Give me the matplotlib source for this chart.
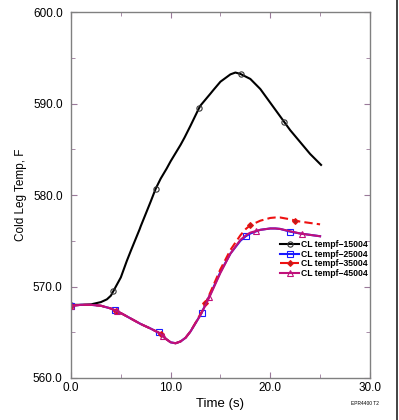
import matplotlib
matplotlib.use("Agg")
import matplotlib.pyplot as plt
from matplotlib.legend_handler import HandlerLine2D
from matplotlib.lines import Line2D
from matplotlib.ticker import MultipleLocator, FormatStrFormatter

plt.rcParams['font.family'] = ['Liberation Sans', 'DejaVu Sans']

# ---- data ----
t_black = [0, 1, 2, 3, 3.6, 4, 4.25, 5, 5.6, 6, 6.9, 7, 8, 8.5, 9, 9.6, 10, 11, 11.4, 12, 12.8, 13, 14, 14.3,
           15, 16, 16.5, 17, 18, 19, 20, 21, 21.4, 22, 23, 24, 25.1]
T_black = [568.0, 568.0, 568.05, 568.3, 568.6, 569.0, 569.5, 571.0, 572.8, 573.9, 576.3, 576.6, 579.3, 580.7,
           581.8, 582.9, 583.7, 585.5, 586.3, 587.6, 589.4, 589.8, 591.1, 591.5, 592.4, 593.2, 593.4, 593.25,
           592.7, 591.6, 590.1, 588.6, 588.0, 587.1, 585.8, 584.5, 583.3]

t_low = [0, 1, 2, 3, 4, 4.4, 5, 6, 7, 8, 8.9, 9.5, 10, 10.5, 11, 11.5, 12, 13, 13.1, 14, 15, 15.1, 16, 17, 17.55,
         18, 19, 20, 20.5, 21, 22, 23, 24, 25]
T_blue = [567.9, 568.0, 568.0, 567.9, 567.6, 567.4, 567.1, 566.5, 565.9, 565.4, 564.9, 564.3, 563.9, 563.8,
          564.0, 564.4, 565.1, 566.9, 567.1, 569.2, 571.6, 571.8, 573.6, 575.0, 575.5, 575.8, 576.2, 576.35,
          576.35, 576.3, 576.0, 575.8, 575.65, 575.5]
T_red = [567.9, 568.0, 568.0, 567.9, 567.6, 567.4, 567.1, 566.5, 565.9, 565.4, 564.9, 564.3, 563.9, 563.8,
         564.0, 564.4, 565.1, 567.0, 567.2, 569.4, 571.9, 572.1, 574.0, 575.6, 576.3, 576.7, 577.2, 577.5,
         577.55, 577.55, 577.35, 577.1, 576.95, 576.8]
T_mag = [567.9, 568.0, 568.0, 567.9, 567.6, 567.4, 567.1, 566.5, 565.9, 565.4, 564.9, 564.3, 563.9, 563.8,
         564.0, 564.4, 565.1, 566.9, 567.1, 569.1, 571.5, 571.7, 573.6, 575.1, 575.6, 575.9, 576.2, 576.35,
         576.35, 576.3, 576.05, 575.8, 575.65, 575.5]

mk_t_black = [0, 4.25, 8.5, 12.8, 17.05, 21.4]
mk_T_black = [568.0, 569.5, 580.7, 589.5, 593.2, 588.0]
mk_t_blue = [0, 4.4, 8.8, 13.1, 17.55, 22.0]
mk_T_blue = [567.9, 567.4, 565.0, 567.1, 575.5, 576.0]
mk_t_red = [0, 4.5, 9.0, 13.45, 18.0, 22.5]
mk_T_red = [567.9, 567.35, 564.8, 568.2, 576.7, 577.2]
mk_t_mag = [0, 4.6, 9.2, 13.9, 18.55, 23.2]
mk_T_mag = [567.9, 567.3, 564.6, 568.9, 576.05, 575.75]

labels = ["CL tempf\u221215004", "CL tempf\u221225004", "CL tempf\u221235004", "CL tempf\u221245004"]

# ---- figure ----
fig = plt.figure(figsize=(3.99, 4.2), dpi=100)
ax = fig.add_axes([0.178, 0.1, 0.749, 0.871])

series = [
    (t_black, T_black, mk_t_black, mk_T_black, 'black', '-', 'o', 'none'),
    (t_low, T_blue, mk_t_blue, mk_T_blue, '#1a1aff', '-', 's', 'none'),
    (t_low, T_red, mk_t_red, mk_T_red, '#ee1111', '--', 'D', '#b02020'),
    (t_low, T_mag, mk_t_mag, mk_T_mag, '#c0107a', '-', '^', 'none'),
]

handles = []
for (tx, ty, mx, my, col, ls, mk, mfc), lab in zip(series, labels):
    ms = 3.0 if mk == 'D' else 3.8
    mec = '#333333' if mk == 'o' else col
    line, = ax.plot(tx, ty, color=col, ls=ls, lw=1.5)
    if ls == '--':
        line.set_dashes((4, 2))
    ax.plot(mx, my, ls='none', marker=mk, ms=ms, mfc=mfc, mec=mec, mew=0.8)
    h = Line2D([], [], color=col, ls=ls, lw=1.5, marker=mk, ms=ms, mfc=mfc, mec=mec, mew=0.8)
    if ls == '--':
        h.set_dashes((4, 2))
    handles.append(h)


class EndMarkerHandler(HandlerLine2D):
    def get_xdata(self, legend, xdescent, ydescent, width, height, fontsize):
        xdata = [-xdescent, -xdescent + width]
        return xdata, [-xdescent + width]


leg = ax.legend(handles, labels, loc='upper left', bbox_to_anchor=(0.70, 0.376), frameon=False,
                prop={'size': 6.2, 'weight': 'bold'}, handlelength=2.2, handletextpad=0.2,
                labelspacing=0.05, borderaxespad=0, borderpad=0,
                handler_map={h: EndMarkerHandler(numpoints=1) for h in handles})

ax.set_xlim(0, 30)
ax.set_ylim(560, 600)
ax.xaxis.set_major_locator(MultipleLocator(10))
ax.xaxis.set_minor_locator(MultipleLocator(5))
ax.yaxis.set_major_locator(MultipleLocator(10))
ax.yaxis.set_minor_locator(MultipleLocator(5))
ax.xaxis.set_major_formatter(FormatStrFormatter('%.1f'))
ax.yaxis.set_major_formatter(FormatStrFormatter('%.1f'))
ax.tick_params(which='both', direction='in', top=True, right=True, colors='#9a7a9a',
               labelcolor='black', labelsize=8.5)
ax.tick_params(which='major', length=4, width=0.8)
ax.tick_params(axis='y', which='major', pad=6)
ax.tick_params(axis='x', which='major', pad=3)
ax.tick_params(which='minor', length=3, width=0.6)
for s in ax.spines.values():
    s.set_color('#808080')
    s.set_linewidth(1.0)

ax.set_xlabel('Time (s)', fontsize=9.5, labelpad=3)
ax.set_ylabel('Cold Leg Temp, F', fontsize=8.5, labelpad=4)

fig.text(0.915, 0.04, 'EPR4400 T2', fontsize=3.5, ha='center', va='center')
fig.add_artist(Line2D([0.996, 0.996], [0, 1], transform=fig.transFigure, color='#222222', lw=1.2))

fig.savefig('out.png', dpi=100)
